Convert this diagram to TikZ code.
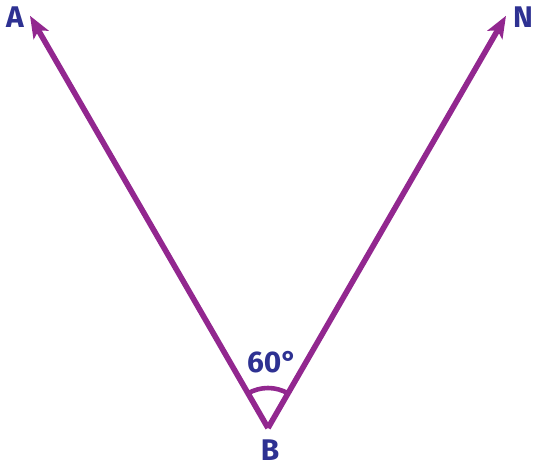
\documentclass[tikz,border=0pt]{standalone}
\usepackage{fontspec}
\setmainfont{Fira Sans}
\usepackage{xcolor}
\usepackage{tikz}
\usetikzlibrary{arrows.meta,calc}
\definecolor{raypurple}{RGB}{146,39,143}
\definecolor{labelblue}{RGB}{46,49,146}
\tikzset{
ray/.style={line width=3.2pt,raypurple,-{Stealth[length=0.44cm,width=0.34cm,inset=0.1cm]}},
ptlabel/.style={text=labelblue,font=\fontsize{17}{20}\selectfont\bfseries,inner sep=0pt}
}

\begin{document}
\begin{tikzpicture}
\useasboundingbox(0,0)rectangle(10.72,9.44);
\coordinate (B) at (5.36,0.88);
\coordinate (tipA) at ($(B)+(120:9.52)$);
\coordinate (tipN) at ($(B)+(60:9.52)$);
\draw[ray](B)--(tipA);
\draw[ray](B)--(tipN);
\draw[line width=2.6pt,raypurple](B)++(60:0.8)arc(60:120:0.8);
\node[ptlabel] (A) at (0.30,9.10) {A};
\node[ptlabel] (N) at (10.46,9.10) {N};
\node[ptlabel] (Bl) at (5.40,0.44) {B};
\node[ptlabel] (ang) at (5.44,2.20) {60°};
\end{tikzpicture}
\end{document}
